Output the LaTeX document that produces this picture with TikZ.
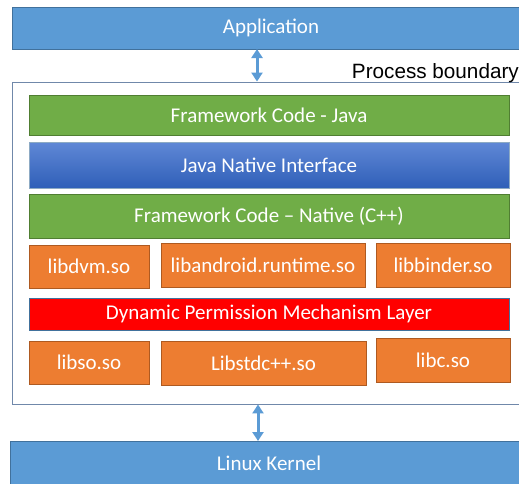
\documentclass[tikz,border=0pt]{standalone}
\usepackage{fontspec}
\setmainfont{Carlito}
\newfontfamily\arialfont{Liberation Sans}
\usetikzlibrary{arrows.meta}
\definecolor{pblue}{HTML}{5B9BD5}
\definecolor{pblueb}{HTML}{41719C}
\definecolor{pgreen}{HTML}{70AD47}
\definecolor{pgreenb}{HTML}{507E32}
\definecolor{porange}{HTML}{ED7D31}
\definecolor{porangeb}{HTML}{AE5A21}
\definecolor{jnitop}{HTML}{6088D6}
\definecolor{jnibot}{HTML}{2F5FB8}
\definecolor{outerb}{HTML}{7088AA}
\tikzset{
  lbl/.style={text=white, font=\fontsize{21}{24}\selectfont, inner sep=0pt, outer sep=0pt},
  bluebar/.style={lbl, fill=pblue, draw=pblueb, line width=0.8pt},
  greenbar/.style={lbl, fill=pgreen, draw=pgreenb, line width=0.8pt},
  orangebox/.style={lbl, fill=porange, draw=porangeb, line width=0.8pt},
  redbar/.style={lbl, fill=red, draw=pblueb, line width=0.8pt},
  jnibar/.style={lbl, top color=jnitop, bottom color=jnibot, draw=pblueb!60!white, line width=0.8pt},
  dblarrow/.style={draw=pblue, line width=3pt, {Triangle[width=11pt,length=9pt]}-{Triangle[width=11pt,length=9pt]}},
}
\begin{document}
\begin{tikzpicture}[x=1pt,y=-1pt]
\useasboundingbox (0,0) rectangle (519,483);
\clip (0,0) rectangle (519,483);
\node[bluebar, minimum width=518pt, minimum height=42pt] (app) at (271,28) {Application};
\node[draw=outerb, line width=0.9pt, minimum width=518pt, minimum height=322pt, inner sep=0pt] (outer) at (271.5,243) {};
\node[anchor=base east, inner sep=0pt, font=\arialfont\fontsize{20.7}{24}\selectfont] (pb) at (519,78) {Process boundary};
\node[greenbar, minimum width=480pt, minimum height=40pt] (fwj) at (269,115) {Framework Code - Java};
\node[jnibar, minimum width=480pt, minimum height=46pt] (jni) at (269,165) {Java Native Interface};
\node[greenbar, minimum width=480pt, minimum height=44pt] (fwn) at (269,216) {Framework Code – Native (C++)};
\node[orangebox, minimum width=120pt, minimum height=43pt] (dvm) at (89,266.5) {libdvm.so};
\node[orangebox, minimum width=204pt, minimum height=44pt] (andr) at (263,265) {libandroid.runtime.so};
\node[orangebox, minimum width=134pt, minimum height=44pt] (binder) at (443,265) {libbinder.so};
\node[redbar, minimum width=480pt, minimum height=32pt] (dpm) at (269,314) {Dynamic Permission Mechanism Layer};
\node[orangebox, minimum width=120pt, minimum height=43pt] (libso) at (89,362.5) {libso.so};
\node[orangebox, minimum width=205pt, minimum height=44pt] (std) at (263.5,363) {Libstdc++.so};
\node[orangebox, minimum width=134pt, minimum height=44pt] (libc) at (443,360) {libc.so};
\node[bluebar, minimum width=518pt, minimum height=44pt] (kernel) at (269,463) {Linux Kernel};
\coordinate (xa) at (257,0);
\coordinate (xb) at (258,0);
\draw[dblarrow] (app.south -| xa) -- (outer.north -| xa);
\draw[dblarrow] (outer.south -| xb) -- (kernel.north -| xb);
\end{tikzpicture}
\end{document}
